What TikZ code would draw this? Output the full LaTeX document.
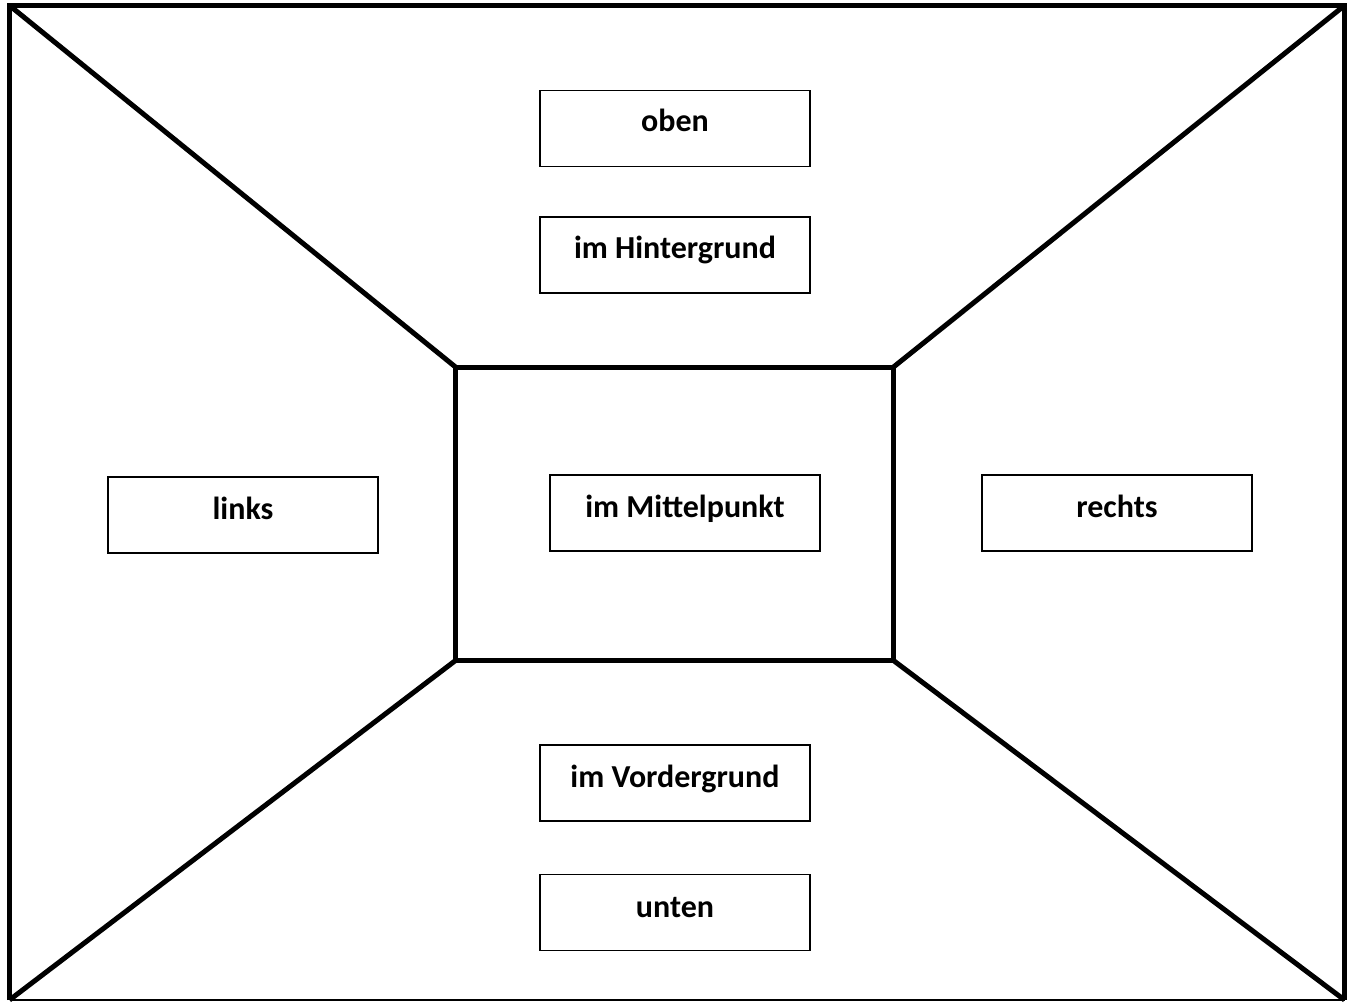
\documentclass[tikz,border=0pt]{standalone}
\usepackage{fontspec}
\setmainfont{Carlito}
\begin{document}
\begin{tikzpicture}[x=1pt,y=-1pt,
  frame/.style={line width=5pt,line join=miter},
  lbl/.style={draw,line width=1.5pt,minimum width=270pt,minimum height=76pt,inner sep=0pt},
  txt/.style={font=\bfseries\fontsize{32}{38}\selectfont,inner sep=0pt,anchor=base}]
\useasboundingbox (0,0) rectangle (1353,1003);
\fill[white] (0,0) rectangle (1353,1003);
% outer corners
\coordinate (OTL) at (9.5,5.5);
\coordinate (OTR) at (1344.5,5.5);
\coordinate (OBR) at (1344.5,1000);
\coordinate (OBL) at (9.5,1000);
% inner corners
\coordinate (ITL) at (455.5,367);
\coordinate (ITR) at (893.5,367);
\coordinate (IBR) at (893.5,660.5);
\coordinate (IBL) at (455.5,660.5);
\draw[frame] (OBL) -- (OTL) -- (OTR) -- (OBR);
\draw[line width=1.5pt] (OBL) -- (OBR);
\draw[frame] (ITL) -- (ITR) -- (IBR) -- (IBL) -- cycle;
\draw[frame] (OTL) -- (ITL);
\draw[frame] (OTR) -- (ITR);
\draw[frame] (OBR) -- (IBR);
\draw[frame] (OBL) -- (IBL);
% label boxes
\node[lbl] (oben) at (675,128.5) {};
\node[txt] at (675,132) {oben};
\node[lbl] (hint) at (675,255) {};
\node[txt] at (675,259) {im Hintergrund};
\node[lbl] (links) at (243,515) {};
\node[txt] at (243,519) {links};
\node[lbl] (mitte) at (685,513) {};
\node[txt] at (685,517) {im Mittelpunkt};
\node[lbl] (rechts) at (1117,513) {};
\node[txt] at (1117,517) {rechts};
\node[lbl] (vorder) at (675,783) {};
\node[txt] at (675,787) {im Vordergrund};
\node[lbl] (unten) at (675,912.5) {};
\node[txt] at (675,917) {unten};
\end{tikzpicture}
\end{document}
